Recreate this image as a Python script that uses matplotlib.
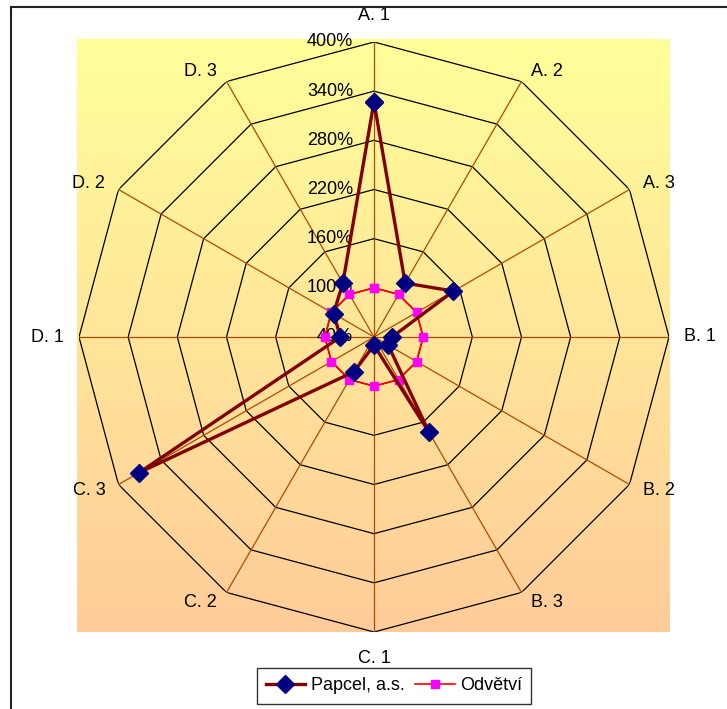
import numpy as np
import matplotlib
matplotlib.use("Agg")
import matplotlib.pyplot as plt
from matplotlib.patches import Rectangle
from matplotlib.colors import LinearSegmentedColormap

categories = ["A. 1", "A. 2", "A. 3", "B. 1", "B. 2", "B. 3",
              "C. 1", "C. 2", "C. 3", "D. 1", "D. 2", "D. 3"]
papcel = [327, 116, 152, 62, 60, 174, 50, 89, 371, 81, 97, 116]
odvetvi = [100, 100, 100, 100, 100, 100, 100, 100, 100, 100, 100, 100]
r_ticks = [40, 100, 160, 220, 280, 340, 400]
r_min, r_max = 40, 400

plt.rcParams['font.family'] = ['Liberation Sans', 'DejaVu Sans']
FS = 13

W, H = 727, 709
fig = plt.figure(figsize=(W / 100, H / 100), dpi=100)

# outer frame
fig.patches.append(Rectangle((11 / W, -0.5), 2.0, (H - 7) / H + 0.5,
                             transform=fig.transFigure, fill=False,
                             edgecolor='#222222', linewidth=1.5, clip_on=False))

# background gradient
bx0, bx1, by0, by1 = 77, 670, 39, 632
bg = fig.add_axes([bx0 / W, (H - by1) / H, (bx1 - bx0) / W, (by1 - by0) / H])
cmap = LinearSegmentedColormap.from_list('g', ['#FFFF99', '#FFCC99'])
bg.imshow(np.linspace(0, 1, 256).reshape(-1, 1), aspect='auto', cmap=cmap,
          extent=[0, 1, 0, 1])
bg.set_axis_off()

# polar axes
cx, cy, R = 374, 337, 295
ax = fig.add_axes([(cx - R) / W, (H - cy - R) / H, 2 * R / W, 2 * R / H],
                  projection='polar')
ax.patch.set_alpha(0)
ax.set_theta_offset(np.pi / 2)
ax.set_theta_direction(-1)
ax.set_ylim(r_min, r_max)
ax.grid(False)
ax.spines['polar'].set_visible(False)
ax.set_xticks([])
ax.set_yticks([])

n = len(categories)
theta = np.arange(n) * 2 * np.pi / n
theta_c = np.append(theta, theta[0])

# polygon rings
for rv in r_ticks[1:]:
    ax.plot(theta_c, [rv] * (n + 1), color='black', lw=0.9, zorder=1)
# spokes
for th in theta:
    ax.plot([th, th], [r_min, r_max], color='#B04A00', lw=0.9, zorder=1)

# tick labels
for rv in r_ticks:
    ax.annotate(f"{rv}%", xy=(0, rv), xytext=(-21, 0), textcoords='offset pixels',
                ha='right', va='center', fontsize=FS, zorder=2)

# category labels
for th, lab in zip(theta, categories):
    s, c = np.sin(th), np.cos(th)
    if abs(s) < 0.01:
        ha, ox, oy = 'center', 0, 26.5 * c
    elif s > 0:
        ha, ox, oy = 'left', 8 + 7 * s * s, 12 * c
    else:
        ha, ox, oy = 'right', -(8 + 7 * s * s), 12 * c
    ax.annotate(lab, xy=(th, r_max), xytext=(ox, oy), textcoords='offset pixels',
                ha=ha, va='center', fontsize=FS, annotation_clip=False)

p_vals = np.append(papcel, papcel[0])
o_vals = np.append(odvetvi, odvetvi[0])
l1, = ax.plot(theta_c, p_vals, color='#800000', lw=2.4, marker='D',
              markersize=9.5, markerfacecolor='#000080', markeredgecolor='#000080',
              zorder=5, clip_on=False)
l2, = ax.plot(theta_c, o_vals, color='#FF0000', lw=1.2, marker='s',
              markersize=6, markerfacecolor='#FF00FF', markeredgecolor='#FF00FF',
              zorder=4, clip_on=False)

fig.legend([l1, l2], ["Papcel, a.s.", "Odvětví"], loc='center',
           bbox_to_anchor=(394 / W, (H - 686) / H), ncol=2, frameon=True,
           fancybox=False, edgecolor='black', fontsize=FS, handlelength=2.2,
           columnspacing=0.6, handletextpad=0.3, borderpad=0.5, borderaxespad=0)

fig.savefig('out.png', dpi=100)
